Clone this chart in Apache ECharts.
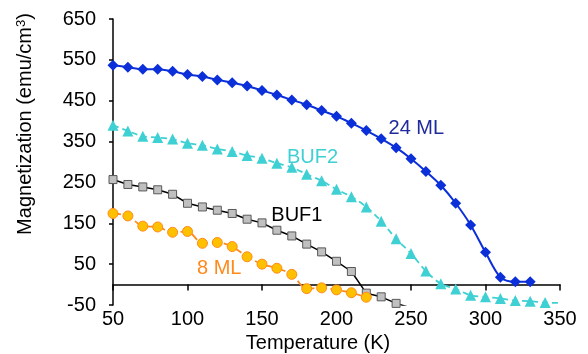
<!DOCTYPE html>
<html>
<head>
<meta charset="utf-8">
<script src="https://cdn.jsdelivr.net/npm/echarts@6/dist/echarts.min.js"></script>
<style>
  html, body { margin: 0; padding: 0; background: #fff; }
  #chart { width: 588px; height: 354px; }
</style>
</head>
<body>
<div id="chart"></div>
<script>
// temperatures (K) and magnetization (emu/cm3)
const temps24 = [50, 60, 70, 80, 90, 100, 110, 120, 130, 140, 150, 160, 170, 180, 190, 200, 210, 220, 230, 240, 250, 260, 270, 280, 290, 300, 310, 320, 330];
const ml24 = [537, 532, 527, 527, 522, 514, 509, 501, 494, 486, 475, 464, 452, 440, 426, 412, 395, 377, 357, 335, 308, 277, 243, 199, 146, 79, 18, 7, 7];

const tempsBuf2 = [50, 60, 70, 80, 90, 100, 110, 120, 130, 140, 150, 160, 170, 180, 190, 200, 210, 220, 230, 240, 250, 260, 270, 280, 290, 300, 310, 320, 330, 340, 360];
const buf2 = [390, 376, 363, 360, 356, 346, 341, 332, 326, 316, 309, 297, 287, 270, 254, 233, 215, 190, 155, 112, 76, 33, 2, -11, -26, -30, -34, -39, -41, -44, -46];

const tempsBuf1 = [50, 60, 70, 80, 90, 100, 110, 120, 130, 140, 150, 160, 170, 180, 190, 200, 210, 220, 230, 240, 250];
const buf1 = [257, 245, 239, 232, 221, 199, 190, 182, 174, 160, 151, 133, 119, 99, 80, 57, 32, -21, -30, -46, -57];

const temps8 = [50, 60, 70, 80, 90, 100, 110, 120, 130, 140, 150, 160, 170, 180, 190, 200, 210, 220];
const ml8 = [174, 168, 143, 141, 128, 130, 101, 103, 93, 68, 50, 40, 25, -10, -8, -13, -20, -31];

// series label anchors [T, M]
const labels = [
  { name: '24 ML', at: [253.6, 383], color: '#1f2a9c' },
  { name: 'BUF2', at: [183.9, 312], color: '#3fd0d4' },
  { name: 'BUF1', at: [173.4, 168], color: '#000000' },
  { name: '8 ML', at: [121.3, 40], color: '#ff8a1c' },
];

const FONT = 'Liberation Sans, Arial, sans-serif';
const zip = (xs, ys) => xs.map((x, i) => [x, ys[i]]);

const chart = echarts.init(document.getElementById('chart'));

const labelPoint = (l) => ({
  silent: true,
  symbol: 'circle',
  symbolSize: 1,
  itemStyle: { color: 'rgba(0,0,0,0)' },
  label: {
    show: true,
    position: 'inside',
    color: l.color,
    fontSize: 20,
    fontFamily: FONT,
    formatter: l.name,
  },
  data: [{ coord: l.at }],
});

chart.setOption({
  animation: false,
  grid: { left: 113, right: 28, top: 19, bottom: 49 },
  xAxis: [
    {
      // axis line crossing at M = 0
      type: 'value',
      min: 50,
      max: 350,
      interval: 50,
      position: 'bottom',
      axisLine: { show: true, onZero: true, lineStyle: { color: '#000', width: 1.5 } },
      axisTick: { show: true, length: 6, lineStyle: { color: '#000', width: 1.5 } },
      axisLabel: { show: false },
      splitLine: { show: false },
    },
    {
      // labels along the bottom of the plot
      type: 'value',
      min: 50,
      max: 350,
      interval: 50,
      position: 'bottom',
      axisLine: { show: false, onZero: false },
      axisTick: { show: false },
      axisLabel: { show: true, margin: 4, color: '#000', fontSize: 20, fontFamily: FONT },
      splitLine: { show: false },
    },
  ],
  yAxis: {
    type: 'value',
    min: -50,
    max: 650,
    interval: 100,
    axisLine: { show: true, onZero: false, lineStyle: { color: '#000', width: 1.5 } },
    axisTick: { show: true, length: 4, lineStyle: { color: '#000', width: 1.5 } },
    axisLabel: { margin: 17, color: '#000', fontSize: 20, fontFamily: FONT },
    splitLine: { show: false },
  },
  graphic: [
    {
      type: 'text',
      x: 318,
      y: 343,
      style: {
        text: 'Temperature (K)',
        font: '20px ' + FONT,
        fill: '#000',
        align: 'center',
        verticalAlign: 'middle',
      },
    },
    {
      type: 'text',
      x: 25,
      y: 124,
      rotation: Math.PI / 2,
      style: {
        text: 'Magnetization (emu/cm{s|3})',
        font: '20px ' + FONT,
        fill: '#000',
        align: 'center',
        verticalAlign: 'middle',
        rich: {
          s: { fontSize: 13, fontFamily: FONT, fill: '#000', verticalAlign: 'top', padding: [0, 0, 8, 0] },
        },
      },
    },
  ],
  series: [
    {
      name: '24 ML',
      type: 'line',
      data: zip(temps24, ml24),
      smooth: 0.3,
      symbol: 'diamond',
      symbolSize: 11,
      clip: true,
      lineStyle: { color: '#0b2fd9', width: 2 },
      itemStyle: { color: '#0b2fd9' },
      markPoint: labelPoint(labels[0]),
    },
    {
      name: 'BUF2',
      type: 'line',
      data: zip(tempsBuf2, buf2),
      smooth: 0.3,
      symbol: 'triangle',
      symbolSize: 11,
      clip: true,
      lineStyle: { color: '#3fd0d4', width: 1.8, type: [6, 4] },
      itemStyle: { color: '#3fd0d4' },
      markPoint: labelPoint(labels[1]),
    },
    {
      name: 'BUF1',
      type: 'line',
      data: zip(tempsBuf1, buf1),
      symbol: 'rect',
      symbolSize: 8,
      clip: true,
      lineStyle: { color: '#000', width: 1.5 },
      itemStyle: { color: '#c0c0c0', borderColor: '#595959', borderWidth: 1 },
      markPoint: labelPoint(labels[2]),
    },
    {
      name: '8 ML',
      type: 'line',
      data: zip(temps8, ml8),
      smooth: 0.3,
      symbol: 'circle',
      symbolSize: 10,
      clip: true,
      lineStyle: { color: '#ff8a1c', width: 1.8, type: [8, 4] },
      itemStyle: { color: '#ffc000', borderColor: '#ff8a1c', borderWidth: 1 },
      markPoint: labelPoint(labels[3]),
    },
  ],
});
</script>
</body>
</html>
